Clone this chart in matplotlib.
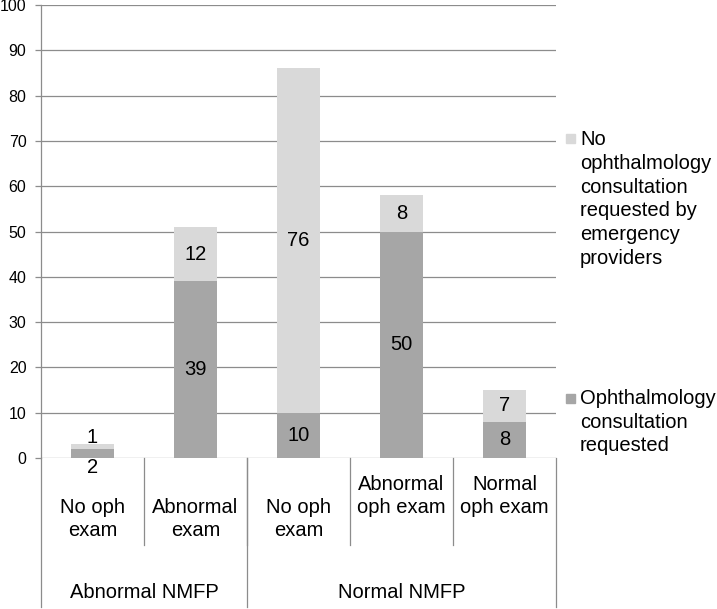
import numpy as np
import matplotlib
matplotlib.use("Agg")
import matplotlib.pyplot as plt
from matplotlib.patches import Rectangle

plt.rcParams['font.family'] = ['Liberation Sans', 'DejaVu Sans']

# dados
categorias = ["No oph\nexam", "Abnormal\nexam", "No oph\nexam", "Abnormal\noph exam", "Normal\noph exam"]
grupos = ["Abnormal NMFP", "Normal NMFP"]
tamanho_grupos = [2, 3]
consulta_pedida = [2, 39, 10, 50, 8]
sem_consulta = [1, 12, 76, 8, 7]
legenda = ["No\nophthalmology\nconsultation\nrequested by\nemergency\nproviders",
           "Ophthalmology\nconsultation\nrequested"]

cor_escura = "#a6a6a6"
cor_clara = "#d9d9d9"
cor_linha = "#8c8c8c"
fonte = 14.5

W, H = 717, 609
fig = plt.figure(figsize=(W / 100, H / 100), dpi=100)
x0, x1, y0, y1 = 41, 556, 458, 5
ax = fig.add_axes([x0 / W, (H - y0) / H, (x1 - x0) / W, (y0 - y1) / H])

x = np.arange(len(categorias))
largura = 0.41
ax.bar(x, consulta_pedida, largura, color=cor_escura, zorder=3)
ax.bar(x, sem_consulta, largura, bottom=consulta_pedida, color=cor_clara, zorder=3)

ax.set_xlim(-0.5, len(categorias) - 0.5)
ax.set_ylim(0, 100)
ax.set_yticks(range(0, 101, 10))
ax.yaxis.grid(True, color=cor_linha, linewidth=0.9, zorder=0)
ax.tick_params(axis='y', length=4.5, width=0.9, color=cor_linha, pad=6, labelsize=11.5)
ax.set_xticks([])
for lado in ["top", "right", "bottom"]:
    ax.spines[lado].set_visible(False)
ax.spines["left"].set_color(cor_linha)
ax.spines["left"].set_linewidth(0.9)

# rótulos dos valores
for i in x:
    d, c = consulta_pedida[i], sem_consulta[i]
    if d < 4:
        ax.text(i, -2, str(d), ha='center', va='center', fontsize=fonte, zorder=4)
        ax.text(i, d + c + 1.6, str(c), ha='center', va='center', fontsize=fonte, zorder=4)
    else:
        ax.text(i, d / 2, str(d), ha='center', va='center', fontsize=fonte, zorder=4)
        ax.text(i, d + c / 2, str(c), ha='center', va='center', fontsize=fonte, zorder=4)

# eixo x em dois níveis
trans = ax.get_xaxis_transform()
px = 1 / (y0 - y1)
fundo_cat = -(545 - y0) * px
fundo_grupo = -(607 - y0) * px
centro_cat = [519, 519, 519, 496, 496]
for i, rotulo in enumerate(categorias):
    ax.text(i, -(centro_cat[i] - y0) * px, rotulo, transform=trans, ha='center', va='center',
            fontsize=fonte, linespacing=1.27)
for k in range(1, len(categorias)):
    ax.plot([k - 0.5, k - 0.5], [0, fundo_cat], transform=trans, color=cor_linha,
            linewidth=0.9, clip_on=False)
limites = np.concatenate([[0], np.cumsum(tamanho_grupos)]) - 0.5
for b in limites:
    ax.plot([b, b], [0, fundo_grupo], transform=trans, color=cor_linha,
            linewidth=0.9, clip_on=False)
for g, rotulo in enumerate(grupos):
    ax.text((limites[g] + limites[g + 1]) / 2, -(593 - y0) * px, rotulo, transform=trans,
            ha='center', va='center', fontsize=fonte)

# legenda
for cor, texto, yc, ym in [(cor_clara, legenda[0], 199, 138), (cor_escura, legenda[1], 422, 398)]:
    fig.text(580 / W, 1 - yc / H, texto, ha='left', va='center', fontsize=fonte, linespacing=1.33)
    fig.patches.append(Rectangle((566 / W, 1 - (ym + 5) / H), 9 / W, 9 / H,
                                 transform=fig.transFigure, color=cor, figure=fig))

fig.savefig("out.png", dpi=100)
